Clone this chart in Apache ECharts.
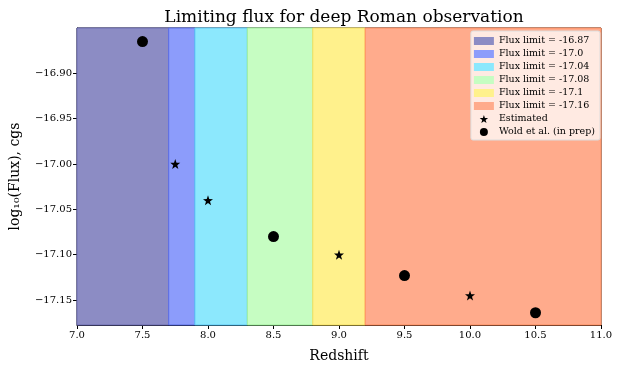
<!DOCTYPE html>
<html>
<head>
<meta charset="utf-8">
<script src="https://cdn.jsdelivr.net/npm/echarts@6/dist/echarts.min.js"></script>
<style>html,body{margin:0;padding:0;background:#fff}#chart{width:623px;height:374px}</style>
</head>
<body>
<div id="chart"></div>
<script>
// bandes de limite de flux
var bandNames = ["Flux limit = -16.87", "Flux limit = -17.0", "Flux limit = -17.04", "Flux limit = -17.08", "Flux limit = -17.1", "Flux limit = -17.16"];
var bandStart = [7.0, 7.7, 7.9, 8.3, 8.8, 9.2];
var bandEnd = [7.7, 7.9, 8.3, 8.8, 9.2, 11.0];
var bandColors = ["#8c8cc4", "#8c9cfb", "#8ce8fd", "#c6fdc2", "#fff18c", "#ffab8c"];
var bandEdges = ["#6c6cb4", "#5a6ee8", "#5cc8f8", "#9ef09a", "#f6e060", "#ff8c5c"];

// points
var starX = [7.75, 8.0, 9.0, 10.0];
var starY = [-17.0, -17.04, -17.1, -17.145];
var dotX = [7.5, 8.5, 9.5, 10.5];
var dotY = [-16.865, -17.08, -17.123, -17.164];

var yTicks = [-16.90, -16.95, -17.00, -17.05, -17.10, -17.15];

var starPath = "path://M0,-10 L2.35,-3.24 L9.51,-3.09 L3.8,1.24 L5.88,8.09 L0,4 L-5.88,8.09 L-3.8,1.24 L-9.51,-3.09 L-2.35,-3.24 Z";
var font = "DejaVu Serif";

var series = [];
for (var i = 0; i < bandNames.length; i++) {
    series.push({
        name: bandNames[i],
        type: "line",
        data: [],
        itemStyle: { color: bandColors[i] },
        markArea: {
            silent: true,
            itemStyle: { color: bandColors[i], borderColor: bandEdges[i], borderWidth: 1 },
            data: [[{ xAxis: bandStart[i] }, { xAxis: bandEnd[i] }]]
        }
    });
}
series.push({
    name: "Estimated",
    type: "scatter",
    symbol: starPath,
    symbolSize: 10,
    itemStyle: { color: "#000", opacity: 1 },
    z: 5,
    data: starX.map(function (x, k) { return [x, starY[k]]; })
});
series.push({
    name: "Wold et al. (in prep)",
    type: "scatter",
    symbol: "circle",
    symbolSize: 11,
    itemStyle: { color: "#000", opacity: 1 },
    z: 5,
    data: dotX.map(function (x, k) { return [x, dotY[k]]; })
});

var myChart = echarts.init(document.getElementById("chart"));
var option = {
    animation: false,
    title: {
        text: "Limiting flux for deep Roman observation",
        left: 339, top: 4, textAlign: "center",
        textStyle: { fontFamily: font, fontSize: 17, fontWeight: "normal", color: "#000" }
    },
    legend: {
        right: 23, top: 31,
        orient: "vertical",
        backgroundColor: "rgba(255,255,255,0.75)",
        borderColor: "#ddd", borderWidth: 1, borderRadius: 2,
        padding: [5, 5, 3, 3],
        itemGap: 3,
        itemWidth: 20, itemHeight: 8,
        textStyle: { fontFamily: font, fontSize: 9.5, color: "#000" },
        data: bandNames.map(function (n) { return { name: n, icon: "rect" }; }).concat([
            { name: "Estimated", icon: starPath, itemStyle: { color: "#000", opacity: 1 } },
            { name: "Wold et al. (in prep)", icon: "circle", itemStyle: { color: "#000", opacity: 1 } }
        ])
    },
    grid: {
        left: 77, right: 22, top: 28, bottom: 49,
        show: true, borderColor: "#000", borderWidth: 1,
        backgroundColor: "transparent"
    },
    xAxis: {
        type: "value", min: 7.0, max: 11.0, interval: 0.5,
        name: "Redshift", nameLocation: "middle", nameGap: 24,
        nameTextStyle: { fontFamily: font, fontSize: 14, color: "#000" },
        axisLine: { lineStyle: { color: "#000" } },
        axisTick: { show: true, length: 4, lineStyle: { color: "#000" } },
        axisLabel: { fontFamily: font, fontSize: 10, color: "#000", margin: 5,
            formatter: function (v) { return v.toFixed(1); } },
        splitLine: { show: false }
    },
    yAxis: {
        type: "value", min: -17.1775, max: -16.85,
        name: "log\u2081\u2080(Flux), cgs", nameLocation: "middle", nameGap: 55,
        nameTextStyle: { fontFamily: font, fontSize: 14, color: "#000" },
        axisLine: { show: true, lineStyle: { color: "#000" } },
        axisTick: { show: true, length: 4, customValues: yTicks, lineStyle: { color: "#000" } },
        axisLabel: { fontFamily: font, fontSize: 10, color: "#000", margin: 5, customValues: yTicks,
            formatter: function (v) { return v.toFixed(2).replace("-", "\u2212"); } },
        splitLine: { show: false }
    },
    series: series
};
myChart.setOption(option);
</script>
</body>
</html>
